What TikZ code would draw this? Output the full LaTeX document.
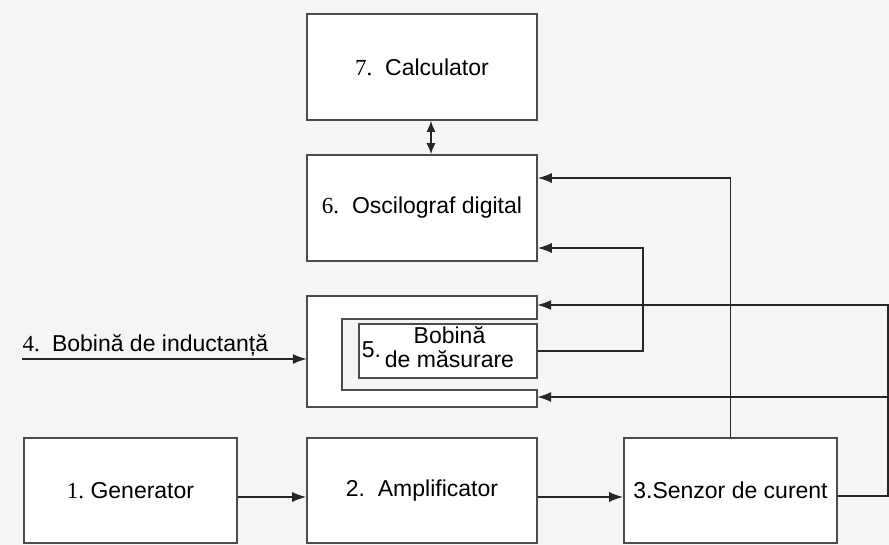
\documentclass[tikz,border=0pt]{standalone}
\usepackage{fontspec}
\setmainfont{Liberation Sans}
\newfontfamily\numfont{Liberation Serif}
\usetikzlibrary{arrows.meta}
\tikzset{
  box/.style={rectangle, draw=black!70, line width=1.6pt, fill=white, inner sep=0pt, font=\fontsize{23}{24}\selectfont},
  conn/.style={line width=1.5pt, draw=black!85, -{Latex[length=14pt,width=10pt]}},
}
\newcommand{\nr}[1]{{\numfont\fontsize{23}{24}\selectfont #1}}

\begin{document}
\begin{tikzpicture}[x=1pt,y=-1pt]
	\fill[black!4] (0,0) rectangle (889,545);
	\useasboundingbox (0,0) rectangle (889,545);
	% computer and scope
	\node[box, minimum width=230pt, minimum height=106pt] (calc) at (422,67) {\nr{7.}\ \ Calculator};
	\node[box, minimum width=230pt, minimum height=106pt] (osc) at (422,208) {\nr{6.}\ \ Oscilograf digital};
	\draw[line width=1.5pt, draw=black!85, {Latex[length=11pt,width=9pt]}-{Latex[length=11pt,width=9pt]}] ([xshift=9pt]calc.south) -- ([xshift=9pt]osc.north);
	% inductance coil with slot
	\node[minimum width=230pt, minimum height=111pt, inner sep=0pt] (coil) at (422,351.5) {};
	\filldraw[draw=black!70, fill=white, line width=1.6pt] (537,319) -- (537,296) -- (307,296) -- (307,407) -- (537,407) -- (537,390) -- (342,390) -- (342,319) -- cycle;
	\node[box, minimum width=178pt, minimum height=54pt] (meas) at (448,351) {5.\,\begin{tabular}{@{}c@{}}Bobină\\de măsurare\end{tabular}\hspace*{20pt}};
	\coordinate (in4) at (22,359);
	\draw[conn] (in4) -- (in4 -| coil.west) node[pos=0, anchor=south west, inner xsep=0pt, inner ysep=2pt, font=\fontsize{23}{24}\selectfont] {\nr{4.}\hspace{12pt}Bobină de inductanță};
	% bottom row
	\node[box, minimum width=213pt, minimum height=105pt] (gen) at (130.5,490.5) {\nr{1.}\ Generator};
	\node[box, minimum width=230pt, minimum height=105pt] (amp) at (422,490.5) {2.\ \ Amplificator};
	\node[box, minimum width=213pt, minimum height=105pt] (sens) at (730.5,490.5) {3.Senzor de curent};
	\draw[conn] ([yshift=-6.5pt]gen.east) -- ([yshift=-6.5pt]amp.west);
	\draw[conn] ([yshift=-6.5pt]amp.east) -- ([yshift=-6.5pt]sens.west);
	% feedback lines
	\coordinate (r1) at (888,305);
	\coordinate (r2) at (888,397);
	\draw[conn] ([yshift=-5.5pt]sens.east) -| (r1) -- (r1 -| coil.east);
	\draw[conn] (r2) -- (r2 -| coil.east);
	\draw[conn] (sens.north) |- ([yshift=30pt]osc.east);
	\draw[conn] (meas.east) -- ++(105,0) |- ([yshift=-40pt]osc.east);
\end{tikzpicture}
\end{document}
